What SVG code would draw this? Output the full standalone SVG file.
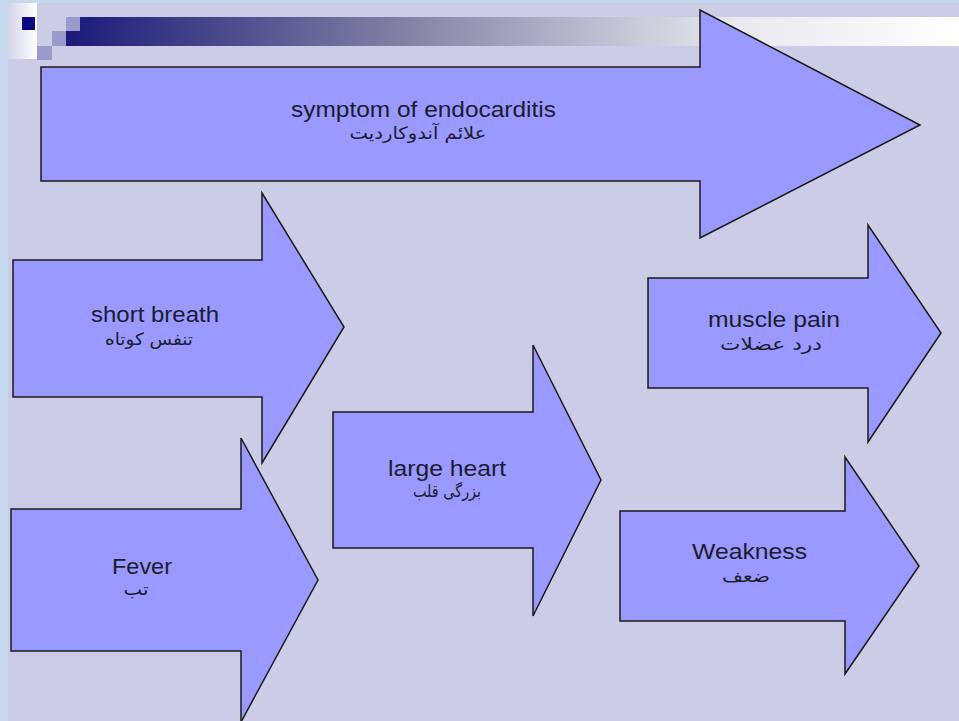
<svg xmlns="http://www.w3.org/2000/svg" width="959" height="721" viewBox="0 0 959 721">
  <defs>
    <linearGradient id="bar" x1="0" y1="0" x2="1" y2="0">
      <stop offset="0" stop-color="#1a1a7a"/>
      <stop offset="0.35" stop-color="#7a7aa0"/>
      <stop offset="0.75" stop-color="#e8e8ee"/>
      <stop offset="1" stop-color="#ffffff"/>
    </linearGradient>
    <linearGradient id="strip" x1="0" y1="0" x2="1" y2="0">
      <stop offset="0" stop-color="#d4d4ea"/>
      <stop offset="1" stop-color="#ffffff"/>
    </linearGradient>
    <style>
      .arrow { fill: #9999ff; stroke: #1a1a1a; stroke-width: 1.5; stroke-linejoin: miter; }
      .en { font-family: "Liberation Sans", Arial, sans-serif; font-size: 22px; fill: #1c1c30; text-anchor: middle; }
      .fa { font-family: "DejaVu Sans", "Noto Sans", sans-serif; font-size: 17px; fill: #1c1c30; text-anchor: middle; direction: rtl; }
    </style>
  </defs>

  <!-- slide background and frame -->
  <rect width="959" height="721" fill="#c6d8ee"/>
  <rect x="8" y="3" width="951" height="718" fill="#cccce6"/>

  <!-- title bar decoration -->
  <g id="decoration">
    <rect x="8" y="3" width="29" height="56" fill="url(#strip)"/>
    <rect x="22" y="17" width="13" height="13" fill="#0a0a80"/>
    <rect x="66" y="17" width="14" height="14" fill="#9a9acc"/>
    <rect x="52" y="31" width="14" height="15" fill="#9a9acc"/>
    <rect x="37" y="46" width="15" height="14" fill="#9a9acc"/>
    <path d="M80 17 H959 V46 H66 V31 H80 Z" fill="url(#bar)"/>
  </g>

  <g id="connectors"/>

  <g id="symptom">
    <path class="arrow" d="M41 67 H700 V10 L920 125 L700 238 V181 H41 Z"/>
    <text class="en" x="423.5" y="117" textLength="265" lengthAdjust="spacingAndGlyphs">symptom of endocarditis</text>
    <text class="fa" x="418" y="139" textLength="137" lengthAdjust="spacingAndGlyphs">علائم آندوکاردیت</text>
  </g>

  <g id="short-breath">
    <path class="arrow" d="M13 260 H262 V193 L344 327 L262 463 V397 H13 Z"/>
    <text class="en" x="155" y="322" textLength="128" lengthAdjust="spacingAndGlyphs">short breath</text>
    <text class="fa" x="149" y="345" textLength="88" lengthAdjust="spacingAndGlyphs">تنفس کوتاه</text>
  </g>

  <g id="muscle-pain">
    <path class="arrow" d="M648 278 H868 V225 L941 333 L868 442 V388 H648 Z"/>
    <text class="en" x="774" y="327" textLength="132" lengthAdjust="spacingAndGlyphs">muscle pain</text>
    <text class="fa" x="771" y="350" textLength="102" lengthAdjust="spacingAndGlyphs">درد عضلات</text>
  </g>

  <g id="large-heart">
    <path class="arrow" d="M333 412 H533 V345 L601 480 L533 616 V548 H333 Z"/>
    <text class="en" x="447" y="476" textLength="118" lengthAdjust="spacingAndGlyphs">large heart</text>
    <text class="fa" x="447" y="497" textLength="68" lengthAdjust="spacingAndGlyphs">بزرگی قلب</text>
  </g>

  <g id="fever">
    <path class="arrow" d="M11 509 H241 V438 L318 580 L241 722 V651 H11 Z"/>
    <text class="en" x="142" y="574" textLength="60" lengthAdjust="spacingAndGlyphs">Fever</text>
    <text class="fa" x="136" y="595" textLength="25" lengthAdjust="spacingAndGlyphs">تب</text>
  </g>

  <g id="weakness">
    <path class="arrow" d="M620 511 H845 V457 L919 566 L845 674 V621 H620 Z"/>
    <text class="en" x="749.5" y="559" textLength="115" lengthAdjust="spacingAndGlyphs">Weakness</text>
    <text class="fa" x="746" y="582" textLength="48" lengthAdjust="spacingAndGlyphs">ضعف</text>
  </g>
</svg>
